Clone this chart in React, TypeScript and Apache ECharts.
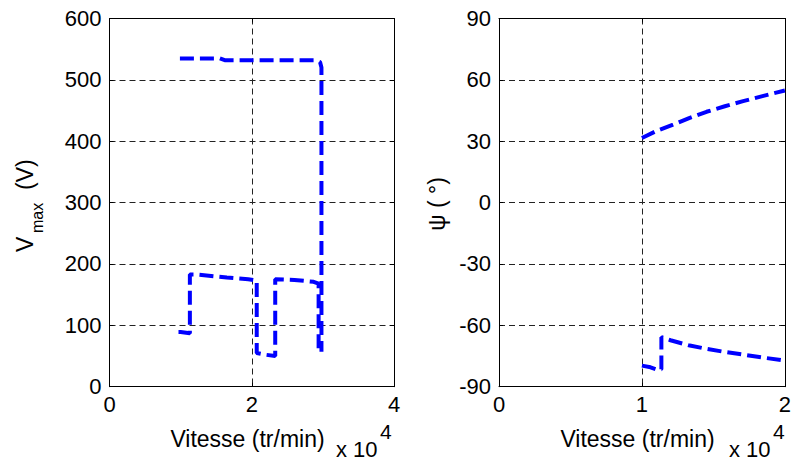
import React, { useEffect, useRef } from "react";
import * as echarts from "echarts";

// Left panel: V_max (V) vs speed (x 10^4 tr/min)
const vmaxUpperX = [0.99, 1.55, 1.62, 2.9, 2.96, 2.98, 2.98];
const vmaxUpperY = [535, 535, 532, 532, 529, 520, 57];
const vmaxLowerX = [0.97, 1.0, 1.13, 1.13, 1.2, 1.65, 1.95, 2.07, 2.07, 2.2, 2.33, 2.33, 2.6, 2.87, 2.94, 2.94];
const vmaxLowerY = [89, 89, 87, 183, 183, 178, 175, 173, 55, 52, 50, 175, 174, 171, 168, 57];

// Right panel: psi (deg) vs speed
const psiUpperX = [1.0, 1.1, 1.218, 1.33, 1.452, 1.58, 1.708, 1.85, 2.0];
const psiUpperY = [31.6, 35.0, 38.1, 41.3, 44.4, 47.1, 49.6, 52.2, 54.8];
const psiLowerX = [1.0, 1.06, 1.112, 1.136, 1.136, 1.2, 1.335, 1.452, 1.58, 1.708, 1.85, 2.0];
const psiLowerY = [-79.7, -80.5, -81.8, -81.5, -65.8, -67.3, -69.9, -71.5, -73.0, -74.3, -75.8, -77.2];

const leftXTicks = { min: 0, max: 4, interval: 2 };
const leftYTicks = { min: 0, max: 600, interval: 100 };
const rightXTicks = { min: 0, max: 2, interval: 1 };
const rightYTicks = { min: -90, max: 90, interval: 30 };

const FONT = "'Liberation Sans', Arial, Helvetica, sans-serif";

const zip = (xs: number[], ys: number[]) => xs.map((x, i) => [x, ys[i]]);

export default function App() {
  const ref = useRef<HTMLDivElement>(null);
  useEffect(() => {
    if (!ref.current) return;
    const chart = echarts.init(ref.current, undefined, { renderer: "svg" });
    const gridLine = { show: true, lineStyle: { color: "#222", width: 1, type: [6, 4] as any } };
    const axisLine = { show: true, onZero: false, lineStyle: { color: "#000", width: 1 } };
    const tick = { show: true, inside: true, length: 4, lineStyle: { color: "#000" } };
    const label = { color: "#000", fontSize: 22, fontFamily: FONT };
    const lineStyle = { color: "#0000ff", width: 4, type: [14, 6] as any, cap: "butt" as any };

    const xMain = (gridIndex: number, t: any) => ({
      type: "value", gridIndex, position: "bottom", ...t,
      axisLine, axisTick: tick, splitLine: gridLine,
      axisLabel: { ...label, margin: 7 },
    });
    const xTop = (gridIndex: number, t: any) => ({
      type: "value", gridIndex, position: "top", ...t,
      axisLine, axisTick: tick, splitLine: { show: false }, axisLabel: { show: false },
    });
    const yMain = (gridIndex: number, t: any) => ({
      type: "value", gridIndex, position: "left", ...t,
      axisLine, axisTick: tick, splitLine: gridLine,
      axisLabel: { ...label, margin: 8 },
    });
    const yRight = (gridIndex: number, t: any) => ({
      type: "value", gridIndex, position: "right", ...t,
      axisLine, axisTick: tick, splitLine: { show: false }, axisLabel: { show: false },
    });

    const txt = (text: string, x: number, y: number, size: number, align: string, vAlign = "middle", extra: any = {}) => ({
      type: "text", x, y, ...extra,
      style: { text, fontSize: size, fontFamily: FONT, fill: "#000", align, verticalAlign: vAlign, textAlign: align, textVerticalAlign: vAlign },
    });

    chart.setOption({
      animation: false,
      backgroundColor: "#fff",
      grid: [
        { left: 109.5, top: 18.5, width: 284.5, height: 368.2 },
        { left: 499, top: 18.5, width: 286, height: 368.2 },
      ],
      xAxis: [xMain(0, leftXTicks), xTop(0, leftXTicks), xMain(1, rightXTicks), xTop(1, rightXTicks)],
      yAxis: [yMain(0, leftYTicks), yRight(0, leftYTicks), yMain(1, rightYTicks), yRight(1, rightYTicks)],
      series: [
        { type: "line", xAxisIndex: 0, yAxisIndex: 0, data: zip(vmaxUpperX, vmaxUpperY), showSymbol: false, lineStyle },
        { type: "line", xAxisIndex: 0, yAxisIndex: 0, data: zip(vmaxLowerX, vmaxLowerY), showSymbol: false, lineStyle },
        { type: "line", xAxisIndex: 2, yAxisIndex: 2, data: zip(psiUpperX, psiUpperY), showSymbol: false, lineStyle },
        { type: "line", xAxisIndex: 2, yAxisIndex: 2, data: zip(psiLowerX, psiLowerY), showSymbol: false, lineStyle },
      ],
      graphic: [
        txt("Vitesse (tr/min)", 247.5, 439, 23, "center"),
        txt("x 10", 336, 449, 22, "left"),
        txt("4", 380, 431, 21, "left"),
        txt("Vitesse (tr/min)", 637.5, 439, 23, "center"),
        txt("x 10", 729, 449, 22, "left"),
        txt("4", 773, 431, 21, "left"),
        {
          type: "group", x: 25, y: 252, rotation: Math.PI / 2,
          children: [
            txt("V", 0, 0, 23, "left"),
            txt("max", 19, 12, 16, "left"),
            txt("(V)", 62, 0, 23, "left"),
          ],
        },
        txt("ψ ( °)", 437, 204, 23, "center", "middle", { rotation: Math.PI / 2 }),
      ],
    });
    return () => chart.dispose();
  }, []);
  return <div ref={ref} style={{ position: "absolute", left: 0, top: 0, width: 794, height: 460 }} />;
}
